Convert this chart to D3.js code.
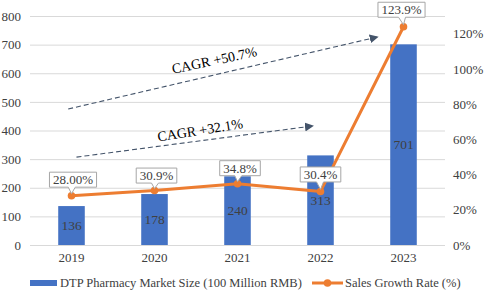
<!DOCTYPE html>
<style>
  body { margin: 0; background: #fff; }
  svg text { font-family: "Liberation Serif"; }
  .grid line { stroke: #d9d9d9; }
  .tick text { fill: #404040; font-size: 13px; }
</style>
<body>
</body>
<script src="https://cdn.jsdelivr.net/npm/d3@7/dist/d3.min.js"></script>
<script>
  const years = ['2019', '2020', '2021', '2022', '2023'];
  const marketSize = [136, 178, 240, 313, 701];
  const growthRate = [28.0, 30.9, 34.8, 30.4, 123.9];
  const growthLabels = ['28.00%', '30.9%', '34.8%', '30.4%', '123.9%'];
  const leftTicks = [0, 100, 200, 300, 400, 500, 600, 700, 800];
  const rightTicks = [0, 20, 40, 60, 80, 100, 120];
  // CAGR annotations, in data units (x = year index, y = left axis value)
  const cagrText = ['CAGR +50.7%', 'CAGR +32.1%'];
  const cagrFrom = [{i: -0.04, v: 475}, {i: 0.06, v: 307}];
  const cagrTo = [{i: 3.69, v: 727}, {i: 2.91, v: 416}];
  const cagrAt = [{i: 1.72, v: 646, a: -12}, {i: 1.55, v: 402, a: -9}];
  const legendNames = ['DTP Pharmacy Market Size (100 Million RMB)', 'Sales Growth Rate (%)'];

  // label box offsets from their point (layout)
  const boxOffset = [[1.5, -16], [2, -15], [2.5, -15.5], [0, -17], [-2, -17]];

  const W = 484, H = 291;
  const l = 30, r = 445, t = 16, b = 245;
  const blue = '#4472c4', orange = '#ed7d31', ink = '#404040', arrowCol = '#44546a';

  const svg = d3.select('body').append('svg')
    .attr('width', W).attr('height', H);

  const x = d3.scaleBand().domain(years).range([l, r]).paddingInner(0.68).paddingOuter(0.34);
  const xi = d3.scaleLinear().domain([0, years.length - 1])
    .range([x(years[0]) + x.bandwidth() / 2, x(years[years.length - 1]) + x.bandwidth() / 2]);
  const y = d3.scaleLinear().domain([0, 800]).range([b, t]);
  const y2 = d3.scaleLinear().domain([0, 130]).range([b, t]);

  // gridlines
  svg.append('g').attr('class', 'grid')
    .selectAll('line').data(leftTicks).join('line')
    .attr('x1', l).attr('x2', r)
    .attr('y1', d => y(d) + 0.5).attr('y2', d => y(d) + 0.5);

  // axes
  const ax = svg.append('g').attr('transform', `translate(${l - 9},0)`)
    .call(d3.axisLeft(y).tickValues(leftTicks).tickSize(0).tickPadding(0));
  const ax2 = svg.append('g').attr('transform', `translate(${r + 8},0)`)
    .call(d3.axisRight(y2).tickValues(rightTicks).tickFormat(d => d + '%').tickSize(0).tickPadding(0));
  const axX = svg.append('g').attr('transform', `translate(0,${b + 5})`)
    .call(d3.axisBottom(x).tickSize(0).tickPadding(3));
  [ax, ax2, axX].forEach(a => a.attr('font-family', null).attr('font-size', null).select('.domain').remove());

  // bars
  svg.append('g').selectAll('rect').data(marketSize).join('rect')
    .attr('x', (d, i) => x(years[i]))
    .attr('y', d => y(d))
    .attr('width', x.bandwidth())
    .attr('height', d => y(0) - y(d))
    .attr('fill', blue);

  svg.append('g').selectAll('text').data(marketSize).join('text')
    .attr('x', (d, i) => x(years[i]) + x.bandwidth() / 2)
    .attr('y', d => (y(d) + y(0)) / 2)
    .attr('dy', '0.35em')
    .attr('text-anchor', 'middle')
    .attr('fill', ink)
    .style('font-size', '13.5px')
    .text(d => d);

  // CAGR arrows
  const defs = svg.append('defs');
  defs.append('marker').attr('id', 'arr')
    .attr('viewBox', '0 0 10 10').attr('refX', 9).attr('refY', 5)
    .attr('markerWidth', 9).attr('markerHeight', 9).attr('orient', 'auto')
    .attr('markerUnits', 'userSpaceOnUse')
    .append('path').attr('d', 'M0,0 L10,5 L0,10 Z').attr('fill', arrowCol);

  svg.append('g').selectAll('line').data(cagrFrom).join('line')
    .attr('x1', d => xi(d.i)).attr('y1', d => y(d.v))
    .attr('x2', (d, k) => xi(cagrTo[k].i)).attr('y2', (d, k) => y(cagrTo[k].v))
    .attr('stroke', arrowCol).attr('stroke-width', 1.1)
    .attr('stroke-dasharray', '5,3')
    .attr('marker-end', 'url(#arr)');

  svg.append('g').selectAll('text').data(cagrAt).join('text')
    .attr('transform', d => `translate(${xi(d.i)},${y(d.v)}) rotate(${d.a})`)
    .attr('text-anchor', 'middle')
    .attr('dy', '0.35em')
    .attr('fill', '#000')
    .style('font-size', '14px')
    .text((d, k) => cagrText[k]);

  // growth line
  const line = d3.line().x((d, i) => xi(i)).y(d => y2(d));
  svg.append('path').datum(growthRate)
    .attr('d', line)
    .attr('fill', 'none').attr('stroke', orange).attr('stroke-width', 3)
    .attr('stroke-linejoin', 'round');
  svg.append('g').selectAll('circle').data(growthRate).join('circle')
    .attr('cx', (d, i) => xi(i)).attr('cy', d => y2(d))
    .attr('r', 3.8).attr('fill', orange);

  // callout labels
  const lab = svg.append('g').selectAll('g').data(growthRate).join('g');
  lab.each(function(d, i) {
    const g = d3.select(this);
    const px = xi(i), py = y2(d);
    const cx = px + boxOffset[i][0], cy = py + boxOffset[i][1];
    const txt = g.append('text')
      .attr('x', cx).attr('y', cy).attr('dy', '0.35em')
      .attr('text-anchor', 'middle').attr('fill', ink)
      .style('font-size', '13px')
      .text(growthLabels[i]);
    const w = txt.node().getComputedTextLength() + 7, h = 15;
    const x0 = cx - w / 2, x1 = cx + w / 2, y0 = cy - h / 2, y1 = cy + h / 2;
    const wm = (cx + px) / 2;
    g.insert('path', 'text')
      .attr('d', `M${x0},${y0}H${x1}V${y1}H${wm + 3}L${px},${py - 2}L${wm - 4},${y1}H${x0}Z`)
      .attr('fill', '#fff').attr('stroke', '#a6a6a6').attr('stroke-width', 1);
  });

  // legend
  const lg = svg.append('g').style('font-size', '12.5px').attr('fill', ink);
  lg.append('rect').attr('x', 30).attr('y', 280).attr('width', 27).attr('height', 6).attr('fill', blue);
  lg.append('text').attr('x', 60).attr('y', 283).attr('dy', '0.35em').text(legendNames[0]);
  lg.append('line').attr('x1', 312).attr('x2', 343).attr('y1', 283).attr('y2', 283)
    .attr('stroke', orange).attr('stroke-width', 3);
  lg.append('circle').attr('cx', 327.5).attr('cy', 283).attr('r', 3.8).attr('fill', orange);
  lg.append('text').attr('x', 345).attr('y', 283).attr('dy', '0.35em').text(legendNames[1]);
</script>
